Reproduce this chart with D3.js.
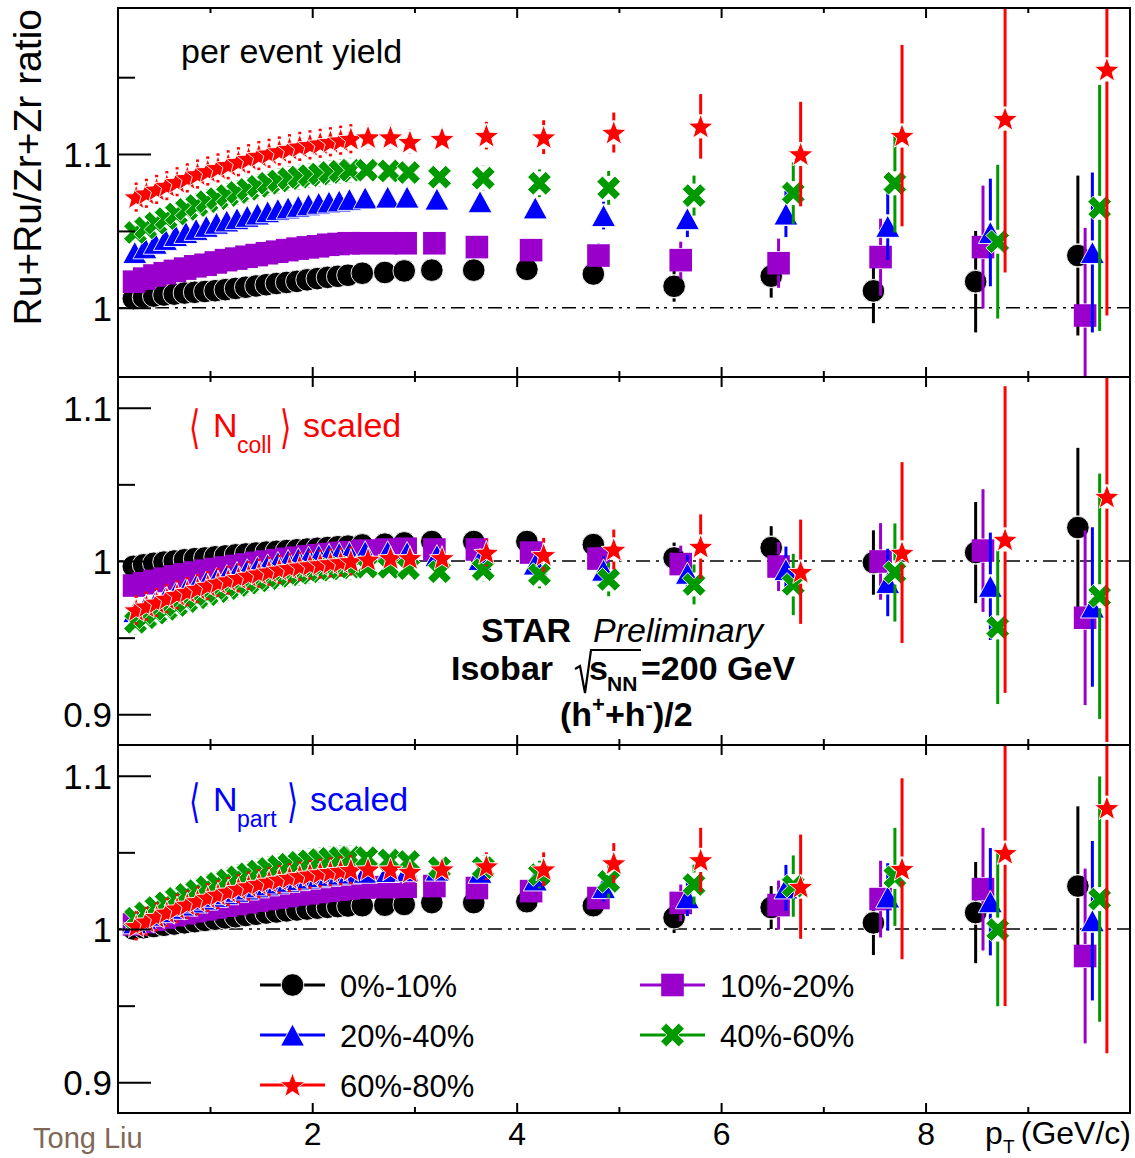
<!DOCTYPE html>
<html><head><meta charset="utf-8">
<script src="https://cdn.jsdelivr.net/npm/d3@7"></script>
<style>
body{margin:0;background:#fff;}
svg{display:block;font-family:"Liberation Sans",Arial,Helvetica,sans-serif;}
</style></head><body>
<svg id="c" width="1135" height="1158"></svg>
<script>
// ---------------- data ----------------
const centralities = ["0%-10%","10%-20%","20%-40%","40%-60%","60%-80%"];
const seriesColors = ["#000000","#9900cc","#0000ff","#009900","#ff0000"];

// bin centres (GeV/c) of the first centrality class
const pt = [0.25,0.35,0.45,0.55,0.65,0.75,0.85,0.95,1.05,1.15,1.25,1.35,1.45,1.55,1.65,1.75,1.85,1.95,2.05,2.15,2.25,2.35,
            2.49,2.71,2.90,3.17,3.58,4.10,4.75,5.54,6.49,7.49,8.49,9.49];
// horizontal displacement between successive centrality classes (GeV/c)
const ptShift = [0.007,0.007,0.007,0.007,0.007,0.007,0.007,0.007,0.007,0.007,0.007,0.007,0.007,0.007,0.007,0.007,0.007,0.007,0.007,0.007,0.007,0.007,
            0.014,0.014,0.014,0.025,0.031,0.041,0.050,0.065,0.072,0.070,0.072,0.071];

// per event yield ratio
const yieldC0 = [1.006,1.0068,1.0076,1.0083,1.0089,1.0096,1.0101,1.0106,1.0111,1.0118,1.0126,1.0134,1.0142,1.015,1.0158,1.0165,1.0172,1.0182,1.019,1.0198,1.0205,1.0212,
                 1.0225,1.023,1.024,1.0245,1.0245,1.025,1.022,1.014,1.0206,1.011,1.017,1.034];
const yieldC1 = [1.017,1.019,1.021,1.0225,1.024,1.0255,1.027,1.028,1.0295,1.031,1.032,1.0332,1.0343,1.0355,1.0365,1.0375,1.0385,1.0393,1.040,1.041,1.0415,1.042,
                 1.042,1.042,1.042,1.042,1.0395,1.0375,1.034,1.031,1.029,1.033,1.0395,0.995];
const yieldC2 = [1.036,1.039,1.042,1.0445,1.047,1.049,1.051,1.053,1.055,1.0565,1.058,1.0595,1.061,1.0625,1.064,1.065,1.066,1.067,1.068,1.0688,1.0695,1.0705,
                 1.0715,1.072,1.072,1.0707,1.069,1.065,1.060,1.058,1.061,1.053,1.049,1.036];
const yieldC3 = [1.049,1.052,1.055,1.058,1.061,1.064,1.0665,1.069,1.071,1.073,1.075,1.077,1.079,1.081,1.0825,1.084,1.085,1.086,1.087,1.088,1.0888,1.0895,
                 1.0895,1.089,1.088,1.085,1.0844,1.081,1.078,1.073,1.0746,1.081,1.043,1.065];
const yieldC4 = [1.072,1.0745,1.077,1.0795,1.082,1.0845,1.087,1.089,1.091,1.093,1.095,1.097,1.099,1.1005,1.102,1.1035,1.105,1.106,1.107,1.108,1.109,1.110,
                 1.111,1.111,1.108,1.110,1.112,1.111,1.114,1.118,1.100,1.112,1.123,1.155];

// <Ncoll> scaled ratio
const ncollC0 = [0.9965,0.9975,0.9985,0.9993,1.0,1.0008,1.0015,1.002,1.0027,1.0033,1.004,1.0046,1.0052,1.0058,1.0063,1.0068,1.0073,1.0078,1.0083,1.0088,1.0093,1.0097,
                 1.0105,1.011,1.0118,1.0127,1.0127,1.0127,1.0107,1.002,1.0087,0.999,1.0055,1.0218];
const ncollC1 = [0.984,0.9855,0.987,0.9885,0.990,0.9913,0.9925,0.9937,0.9948,0.9958,0.9968,0.9978,0.9988,0.9997,1.0006,1.0014,1.0022,1.003,1.0038,1.0045,1.0052,1.0058,
                 1.0068,1.0075,1.008,1.0075,1.0075,1.0055,1.0016,0.998,0.9964,0.9997,1.0068,0.963];
const ncollC2 = [0.967,0.970,0.973,0.976,0.979,0.9815,0.984,0.9863,0.9885,0.9905,0.9925,0.9943,0.996,0.9975,0.999,1.0003,1.0015,1.0025,1.0035,1.0043,1.005,1.0055,
                 1.006,1.006,1.0055,1.0035,1.001,0.998,0.994,0.992,0.9944,0.986,0.9835,0.970];
const ncollC3 = [0.960,0.963,0.966,0.9685,0.971,0.9735,0.976,0.978,0.980,0.982,0.984,0.9855,0.987,0.9885,0.990,0.991,0.992,0.993,0.994,0.9948,0.9955,0.996,
                 0.996,0.9958,0.995,0.993,0.9944,0.9912,0.988,0.9847,0.9847,0.9925,0.9567,0.977];
const ncollC4 = [0.968,0.9705,0.973,0.9755,0.978,0.980,0.982,0.984,0.986,0.9875,0.989,0.9905,0.992,0.9933,0.9945,0.9955,0.9965,0.9973,0.998,0.9987,0.9993,1.0,
                 1.001,1.002,1.002,1.002,1.0055,1.004,1.0075,1.0094,0.993,1.0055,1.014,1.042];

// <Npart> scaled ratio
const npartC0 = [1.0,1.0008,1.0016,1.0024,1.0032,1.004,1.0048,1.0056,1.0064,1.0072,1.008,1.0088,1.0096,1.0104,1.0111,1.0118,1.0124,1.013,1.0136,1.0141,1.0146,1.015,
                 1.0152,1.0155,1.016,1.0172,1.0172,1.0178,1.0152,1.0074,1.014,1.004,1.0107,1.028];
const npartC1 = [1.003,1.0045,1.006,1.0075,1.009,1.0103,1.0116,1.0128,1.014,1.0152,1.0163,1.0174,1.0185,1.0195,1.0205,1.0215,1.0225,1.0233,1.0241,1.0249,1.0257,1.0264,
                 1.027,1.0273,1.0275,1.028,1.0267,1.0247,1.0202,1.017,1.0156,1.0195,1.026,0.9824];
const npartC2 = [1.004,1.0065,1.009,1.0113,1.0135,1.0156,1.0176,1.0195,1.0213,1.023,1.0246,1.0261,1.0275,1.0288,1.03,1.0311,1.0322,1.0332,1.0341,1.035,1.0358,1.0365,
                 1.037,1.0375,1.038,1.0384,1.037,1.032,1.027,1.0204,1.0268,1.0209,1.0178,1.0054];
const npartC3 = [1.007,1.0105,1.014,1.017,1.020,1.0225,1.025,1.0275,1.0298,1.032,1.034,1.036,1.0378,1.0395,1.041,1.0423,1.0435,1.0445,1.0453,1.046,1.0465,1.0468,
                 1.0465,1.045,1.044,1.040,1.040,1.0355,1.031,1.029,1.028,1.034,0.9996,1.0195];
const npartC4 = [1.002,1.005,1.008,1.0108,1.0135,1.016,1.0183,1.0205,1.0225,1.0245,1.0263,1.028,1.0296,1.031,1.0323,1.0335,1.0346,1.0356,1.0365,1.0373,1.038,1.0386,
                 1.039,1.039,1.0374,1.039,1.041,1.039,1.043,1.045,1.0276,1.0393,1.0497,1.079];

// uncertainties (same for all three panels)
const errC0 = [0.003,0.003,0.003,0.003,0.003,0.003,0.003,0.003,0.003,0.003,0.003,0.003,0.003,0.003,0.003,0.003,0.003,0.003,0.003,0.003,0.003,0.003,
               0.003,0.003,0.003,0.003,0.004,0.005,0.007,0.010,0.014,0.021,0.033,0.052];
const errC1 = [0.004,0.004,0.004,0.004,0.004,0.004,0.004,0.004,0.004,0.004,0.004,0.004,0.004,0.004,0.004,0.004,0.004,0.004,0.004,0.004,0.004,0.004,
               0.004,0.004,0.004,0.004,0.005,0.006,0.008,0.012,0.016,0.025,0.040,0.057];
const errC2 = [0.005,0.005,0.005,0.005,0.005,0.005,0.005,0.005,0.005,0.005,0.005,0.005,0.005,0.005,0.005,0.005,0.005,0.005,0.005,0.005,0.005,0.005,
               0.005,0.005,0.005,0.005,0.006,0.007,0.009,0.012,0.015,0.022,0.035,0.052];
const errC3 = [0.008,0.008,0.008,0.008,0.008,0.008,0.008,0.008,0.008,0.008,0.008,0.008,0.008,0.008,0.008,0.008,0.008,0.008,0.008,0.008,0.008,0.008,
               0.007,0.007,0.007,0.007,0.008,0.009,0.011,0.013,0.020,0.032,0.050,0.080];
const errC4 = [0.0095,0.0095,0.0095,0.0095,0.0095,0.0095,0.0095,0.0095,0.0095,0.0095,0.0095,0.0095,0.0095,0.0095,0.0095,0.0095,0.0095,0.0095,0.0095,0.0095,0.0095,0.0095,
               0.008,0.008,0.008,0.007,0.009,0.011,0.013,0.021,0.034,0.059,0.100,0.160];

// axes
const xDomain = [0.1, 10];
const xMajorTicks = [2,4,6,8];
const xMinorTicks = [1,3,5,7,9];
const yDomainTop = [0.955, 1.195];
const yDomainLow = [0.88, 1.12];
const yMajorTop = [1.0, 1.1];
const yMinorTop = [1.05, 1.15];
const yMajorLow = [0.9, 1.0, 1.1];
const yMinorLow = [0.95, 1.05];

// ---------------- drawing ----------------
const svg = d3.select("#c");
const X0 = 118, X1 = 1130;
const x = d3.scaleLinear().domain(xDomain).range([X0, X1]);

const errs = [errC0, errC1, errC2, errC3, errC4];
const panels = [
  {top: 8,   bottom: 377,  dom: yDomainTop, series: [yieldC0,yieldC1,yieldC2,yieldC3,yieldC4], majors: yMajorTop, minors: yMinorTop},
  {top: 377, bottom: 745,  dom: yDomainLow, series: [ncollC0,ncollC1,ncollC2,ncollC3,ncollC4], majors: yMajorLow, minors: yMinorLow},
  {top: 745, bottom: 1113, dom: yDomainLow, series: [npartC0,npartC1,npartC2,npartC3,npartC4], majors: yMajorLow, minors: yMinorLow, labels: true}
];

function markerPath(t) {
  if (t === 0) return "M-11.3,0A11.3,11.3 0 1,0 11.3,0A11.3,11.3 0 1,0 -11.3,0Z";
  if (t === 1) return "M-11.3,-11.3H11.3V11.3H-11.3Z";
  if (t === 2) return "M0,-11L12,11L-12,11Z";
  if (t === 3) {
    const a = 4.0, L = 12.8;
    const pts = [[a,a],[a,L],[-a,L],[-a,a],[-L,a],[-L,-a],[-a,-a],[-a,-L],[a,-L],[a,-a],[L,-a],[L,a]];
    const c = Math.SQRT1_2;
    return "M" + pts.map(p => [(p[0]-p[1])*c, (p[0]+p[1])*c].map(v => v.toFixed(2)).join(",")).join("L") + "Z";
  }
  const R = 13.2, r = 5.5, out = [];
  for (let k = 0; k < 10; k++) {
    const ang = -Math.PI/2 + k*Math.PI/5, rr = k % 2 ? r : R;
    out.push([(rr*Math.cos(ang)).toFixed(2), (rr*Math.sin(ang) + 1).toFixed(2)].join(","));
  }
  return "M" + out.join("L") + "Z";
}
const markerStroke = ["#fff","none","#fff","#fff","#fff"];

panels.forEach((p, pi) => {
  const y = d3.scaleLinear().domain(p.dom).range([p.bottom, p.top]);
  const g = svg.append("g");
  const clipId = "clip" + pi;
  svg.append("clipPath").attr("id", clipId).append("rect")
     .attr("x", X0).attr("y", p.top).attr("width", X1 - X0).attr("height", p.bottom - p.top);

  // reference line at 1
  g.append("line").attr("x1", X0).attr("x2", X1).attr("y1", y(1)).attr("y2", y(1))
    .attr("stroke", "#000").attr("stroke-width", 1.6).attr("stroke-dasharray", "14,6,3,5,3,6");

  const plot = g.append("g").attr("clip-path", `url(#${clipId})`);
  p.series.forEach((vals, si) => {
    const col = seriesColors[si];
    const sg = plot.append("g");
    const gap = 12;
    vals.forEach((v, i) => {
      const xp = x(pt[i] + si * ptShift[i]);
      const yv = y(v), yh = y(v + errs[si][i]), yl = y(v - errs[si][i]);
      if (yv - gap > yh) sg.append("line").attr("x1", xp).attr("x2", xp).attr("y1", yh).attr("y2", yv - gap)
          .attr("stroke", col).attr("stroke-width", 3);
      if (yl > yv + gap) sg.append("line").attr("x1", xp).attr("x2", xp).attr("y1", yv + gap).attr("y2", yl)
          .attr("stroke", col).attr("stroke-width", 3);
    });
    sg.selectAll("path.m").data(vals).join("path").attr("class", "m")
      .attr("d", markerPath(si))
      .attr("transform", (v, i) => `translate(${x(pt[i] + si * ptShift[i])},${y(v)})`)
      .attr("fill", col).attr("stroke", markerStroke[si]).attr("stroke-width", 0.9);
  });

  // frame
  g.append("rect").attr("x", X0).attr("y", p.top).attr("width", X1 - X0).attr("height", p.bottom - p.top)
    .attr("fill", "none").attr("stroke", "#000").attr("stroke-width", 2);

  // y axis (ticks drawn inward)
  const yMaj = d3.axisLeft(y).tickValues(p.majors).tickSizeInner(-33).tickSizeOuter(0).tickPadding(6)
      .tickFormat(d => d === 1 ? "1" : d3.format(".1f")(d));
  const ya = g.append("g").attr("transform", `translate(${X0},0)`).call(yMaj);
  ya.select(".domain").remove();
  ya.selectAll("line").attr("stroke", "#000").attr("stroke-width", 2);
  ya.selectAll("text").attr("font-size", 35).attr("font-family", '"Liberation Sans",Arial,sans-serif').attr("fill", "#000").attr("dy", "0.36em");
  const yMin = d3.axisLeft(y).tickValues(p.minors).tickSizeInner(-17).tickSizeOuter(0).tickFormat("");
  const yb = g.append("g").attr("transform", `translate(${X0},0)`).call(yMin);
  yb.select(".domain").remove();
  yb.selectAll("line").attr("stroke", "#000").attr("stroke-width", 2);

  // x axis bottom (ticks up) and top (ticks down)
  const xMajB = d3.axisBottom(x).tickValues(xMajorTicks).tickSizeInner(-10).tickSizeOuter(0).tickPadding(9)
      .tickFormat(p.labels ? d3.format("d") : "");
  const xa = g.append("g").attr("transform", `translate(0,${p.bottom})`).call(xMajB);
  xa.select(".domain").remove();
  xa.selectAll("line").attr("stroke", "#000").attr("stroke-width", 2);
  xa.selectAll("text").attr("font-size", 32).attr("font-family", '"Liberation Sans",Arial,sans-serif').attr("fill", "#000");
  const xMinB = d3.axisBottom(x).tickValues(xMinorTicks).tickSizeInner(-6).tickSizeOuter(0).tickFormat("");
  const xb = g.append("g").attr("transform", `translate(0,${p.bottom})`).call(xMinB);
  xb.select(".domain").remove();
  xb.selectAll("line").attr("stroke", "#000").attr("stroke-width", 2);
  const xMajT = d3.axisTop(x).tickValues(xMajorTicks).tickSizeInner(-10).tickSizeOuter(0).tickFormat("");
  const xc = g.append("g").attr("transform", `translate(0,${p.top})`).call(xMajT);
  xc.select(".domain").remove();
  xc.selectAll("line").attr("stroke", "#000").attr("stroke-width", 2);
  const xMinT = d3.axisTop(x).tickValues(xMinorTicks).tickSizeInner(-5).tickSizeOuter(0).tickFormat("");
  const xd = g.append("g").attr("transform", `translate(0,${p.top})`).call(xMinT);
  xd.select(".domain").remove();
  xd.selectAll("line").attr("stroke", "#000").attr("stroke-width", 2);
});

// ---------------- texts ----------------
const T = (xx, yy, str, size, opts = {}) => {
  const t = svg.append("text").attr("x", xx).attr("y", yy).attr("font-size", size).text(str)
    .attr("fill", opts.fill || "#000");
  if (opts.weight) t.attr("font-weight", opts.weight);
  if (opts.style) t.attr("font-style", opts.style);
  if (opts.anchor) t.attr("text-anchor", opts.anchor);
  if (opts.family) t.attr("font-family", opts.family);
  return t;
};
// tall thin angle bracket
const B = (xx, yy, ch, col) => svg.append("text")
  .attr("transform", `translate(${xx},${yy}) scale(0.85,1.35)`)
  .attr("font-size", 34).attr("font-family", '"DejaVu Sans",sans-serif').attr("fill", col).text(ch);

// y title
svg.append("text").attr("transform", "translate(41,9) rotate(-90)").attr("text-anchor", "end")
  .attr("font-size", 39).text("Ru+Ru/Zr+Zr ratio");

T(181, 63, "per event yield", 34);

// <Ncoll> scaled
B(189, 443, "\u27E8", "#ff0000");
T(213, 437, "N", 34, {fill: "#ff0000"});
T(237, 453, "coll", 23, {fill: "#ff0000"});
B(280, 443, "\u27E9", "#ff0000");
T(303, 437, "scaled", 34, {fill: "#ff0000"});

// <Npart> scaled
B(189, 817, "\u27E8", "#0000ff");
T(213, 811, "N", 34, {fill: "#0000ff"});
T(237, 827, "part", 23, {fill: "#0000ff"});
B(287, 817, "\u27E9", "#0000ff");
T(310, 811, "scaled", 34, {fill: "#0000ff"});

// STAR Preliminary block
T(481, 642, "STAR", 34, {weight: "bold"});
T(593, 642, "Preliminary", 34, {style: "italic"});
T(451, 680, "Isobar", 34, {weight: "bold"});
svg.append("path").attr("d", "M575,669L580,666L585,693L591,650L641,650")
  .attr("fill", "none").attr("stroke", "#000").attr("stroke-width", 2.2);
T(589, 680, "s", 34, {weight: "bold"});
T(607, 691, "NN", 21, {weight: "bold"});
T(641, 680, "=200 GeV", 34, {weight: "bold"});
const h = svg.append("text").attr("x", 560).attr("y", 726).attr("font-size", 34).attr("font-weight", "bold");
h.append("tspan").text("(h");
h.append("tspan").attr("font-size", 22).attr("dy", -14).text("+");
h.append("tspan").attr("dy", 14).text("+h");
h.append("tspan").attr("font-size", 22).attr("dy", -14).text("-");
h.append("tspan").attr("dy", 14).text(")/2");

// legend
centralities.forEach((c, k) => {
  const col = k % 2, row = Math.floor(k / 2);
  const lx = col ? 640 : 260, ly = 985 + row * 50;
  svg.append("line").attr("x1", lx).attr("x2", lx + 65).attr("y1", ly).attr("y2", ly)
    .attr("stroke", seriesColors[k]).attr("stroke-width", 3);
  svg.append("path").attr("d", markerPath(k)).attr("transform", `translate(${lx + 32.5},${ly})`)
    .attr("fill", seriesColors[k]).attr("stroke", markerStroke[k]).attr("stroke-width", 0.9);
  T(lx + 80, ly + 12, c, 31);
});

// x title
T(985, 1144, "p", 32);
T(1003, 1153, "T", 19);
T(1131, 1144, "(GeV/c)", 32, {anchor: "end"});

T(33, 1148, "Tong Liu", 29, {fill: "#806858"});
</script>
</body></html>
